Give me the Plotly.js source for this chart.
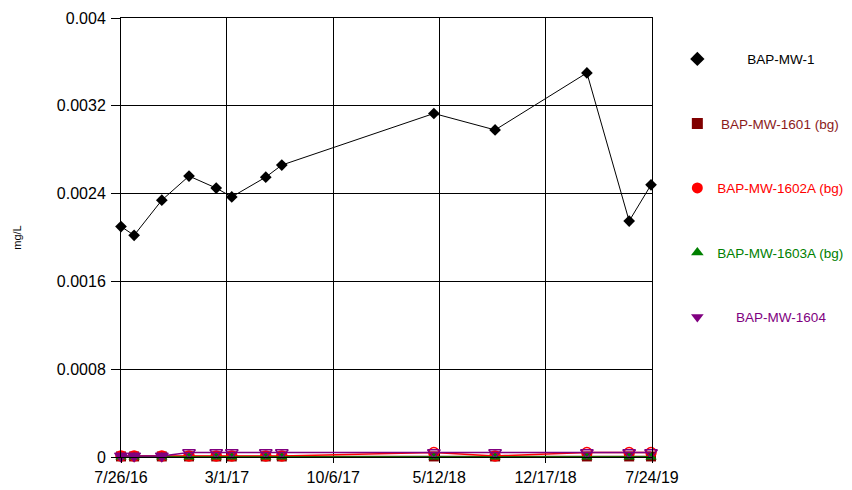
<!DOCTYPE html>
<html>
<head>
<meta charset="utf-8">
<script src="https://cdn.plot.ly/plotly-3.0.1.min.js"></script>
<style>html,body{margin:0;padding:0;background:#fff;}#chart{width:852px;height:490px;}</style>
</head>
<body>
<div id="chart"></div>
<script>
const dates = ["2016-07-26","2016-08-22","2016-10-18","2016-12-13","2017-02-07","2017-03-11","2017-05-20","2017-06-22","2018-05-01","2018-09-04","2019-03-12","2019-06-07","2019-07-22"];
const mw1 = [0.0021,0.00202,0.00234,0.00256,0.00245,0.00237,0.00255,0.00266,0.00313,0.00298,0.0035,0.00215,0.00248];
const mw1601 = [0.000005,0.000005,0.000005,0.000005,0.000005,0.000005,0.000005,0.000005,0.000005,0.000005,0.000005,0.000005,0.000005];
const mw1602A = [0.00001,0.00001,0.00001,0.00001,0.00001,0.00001,0.00001,0.00001,0.00004,0.00001,0.00004,0.00004,0.00004];
const mw1602ANd = [false,false,false,false,false,false,false,false,true,false,true,true,true];
const mw1603A = [0,0,0,0,0,0,0,0,0,0,0,0,0];
const mw1604 = [0.00001,0.00001,0.00001,0.00004,0.00004,0.00004,0.00004,0.00004,0.00004,0.00004,0.00004,0.00004,0.00004];
const mw1604Nd = [false,false,false,true,true,true,true,true,true,true,true,true,true];
const seriesNames = ["BAP-MW-1","BAP-MW-1601 (bg)","BAP-MW-1602A (bg)","BAP-MW-1603A (bg)","BAP-MW-1604"];
const xTickVals = ["2016-07-26","2017-03-01","2017-10-06","2018-05-12","2018-12-17","2019-07-24"];
const xTickText = ["7/26/16","3/1/17","10/6/17","5/12/18","12/17/18","7/24/19"];
const yTickVals = [0,0.0008,0.0016,0.0024,0.0032,0.004];
const yTickText = ["0","0.0008","0.0016","0.0024","0.0032","0.004"];

const colors = ["#000000","#800000","#ff0000","#008000","#800080"];
const legendColors = ["#000000","#8b1a1a","#ff0000","#008000","#800080"];
const symbols = ["diamond","square","circle","triangle-up","triangle-down"];
const pads = [8,1,0,0,5];
function legName(i){
  return '&nbsp;'.repeat(pads[i]) + '<span style="color:'+legendColors[i]+'">'+seriesNames[i]+'</span>';
}
const traces = [
  {x:dates,y:mw1,showlegend:false,cliponaxis:false,mode:'lines+markers',line:{color:colors[0],width:1},marker:{symbol:'diamond',size:9,color:colors[0]}},
  {x:dates,y:mw1601,showlegend:false,cliponaxis:false,mode:'lines+markers',line:{color:colors[1],width:1.5},marker:{symbol:'square',size:10,color:colors[1]}},
  {x:dates,y:mw1602A,showlegend:false,cliponaxis:false,mode:'lines+markers',line:{color:colors[2],width:1.5},marker:{symbol:mw1602ANd.map(v=>v?'circle-open':'circle'),size:10,color:colors[2],line:{color:colors[2],width:1.5}}},
  {x:dates,y:mw1603A,showlegend:false,cliponaxis:false,mode:'lines+markers',line:{color:colors[3],width:1.5},marker:{symbol:'triangle-up',size:10,color:colors[3]}},
  {x:dates,y:mw1604,showlegend:false,cliponaxis:false,mode:'lines+markers',line:{color:colors[4],width:1.5},marker:{symbol:mw1604Nd.map(v=>v?'triangle-down-open':'triangle-down'),size:11,color:colors[4],line:{color:colors[4],width:1.5}}}
];
for (let i=0;i<5;i++){
  traces.push({x:[null],y:[null],name:legName(i),legendgroup:'g'+i,mode:'markers',showlegend:true,
    marker:{symbol:symbols[i],size:11,color:colors[i]}});
}
const layout = {
  width:852,height:490,
  margin:{l:121,r:200,t:18,b:33},
  paper_bgcolor:'#fff',plot_bgcolor:'#fff',
  font:{family:'Liberation Sans, Arial, sans-serif',size:16,color:'#000'},
  showlegend:true,
  legend:{xref:'container',yref:'container',x:0.795,xanchor:'left',y:0.911,yanchor:'top',font:{size:13.5},tracegroupgap:44,itemclick:false,bgcolor:'rgba(0,0,0,0)',maxheight:1},
  xaxis:{type:'date',range:['2016-07-26','2019-07-24'],tickvals:xTickVals,ticktext:xTickText,showgrid:true,gridcolor:'#000',gridwidth:1,
    showline:true,linecolor:'#000',linewidth:1,mirror:true,ticks:'outside',ticklen:5,tickcolor:'#000',zeroline:false,tickfont:{size:16},ticklabelstandoff:1},
  yaxis:{range:[0,0.004],tickvals:yTickVals,ticktext:yTickText,showgrid:true,gridcolor:'#000',gridwidth:1,
    showline:true,linecolor:'#000',linewidth:1,mirror:true,ticks:'outside',ticklen:9,tickcolor:'#000',zeroline:false,tickfont:{size:16},ticklabelstandoff:2,
    title:{text:'mg/L',font:{size:11},standoff:33}}
};
Plotly.newPlot('chart',traces,layout,{displayModeBar:false,staticPlot:true});
</script>
</body>
</html>
